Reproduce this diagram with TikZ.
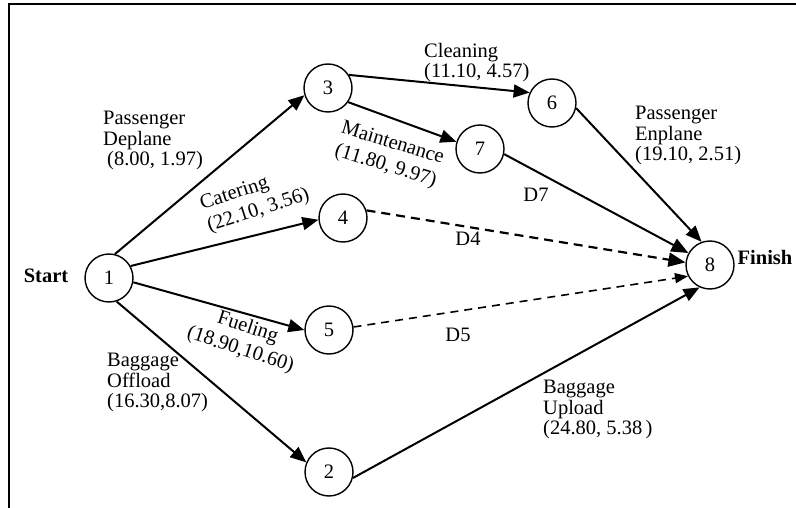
\documentclass[tikz,border=0pt]{standalone}
\usepackage{fontspec}
\setmainfont{Liberation Serif}
\usetikzlibrary{arrows.meta}
\begin{document}
\begin{tikzpicture}[x=1pt,y=-1pt,
  txt/.style={font=\fontsize{20.5}{20.5}\selectfont},
  ev/.style={txt,circle,draw,line width=1.4pt,minimum size=48pt,inner sep=0pt},
  act/.style={line width=2pt,-{Triangle[length=16pt,width=13pt]}},
  dum/.style={line width=2.2pt,dash pattern=on 9pt off 6pt,-{Triangle[length=17pt,width=14pt]}},
  dumthin/.style={line width=1.6pt,dash pattern=on 8pt off 6pt,-{Triangle[length=13pt,width=10pt]}},
  lbl/.style={txt,align=left,anchor=north west,inner sep=0pt},
  rl/.style={font=\fontsize{20.5}{23.5}\selectfont,inner sep=0pt},
  bl/.style={txt,inner sep=0pt,anchor=base},
]
\useasboundingbox (0,0) rectangle (796,508);
\draw[line width=2pt] (796,4.5) -- (9,4.5) -- (9,508);

% events
\node[ev] (n1) at (109,278) {1};
\node[ev] (n2) at (329,472) {2};
\node[ev] (n3) at (328,88) {3};
\node[ev] (n4) at (343,218) {4};
\node[ev] (n5) at (329,330) {5};
\node[ev] (n6) at (552,103) {6};
\node[ev] (n7) at (480,149) {7};
\node[ev] (n8) at (710,265) {8};

% activities
\draw[act] (n1.76) -- (n3.197);
\draw[act] (n1.29) -- (n4.184);
\draw[act] (n1.-10) -- (n5.180);
\draw[act] (n1.-72) -- (n2.157);
\draw[act] (n3.32) -- (n6.155);
\draw[act] (n3.-35) -- (n7.163);
\draw[act] (n6.-12) -- (n8.110);
\draw[act,-{Triangle[length=17pt,width=14pt]}] (n7.-12) -- (n8.151);
\draw[act] (n2.-14) -- (n8.245);
\draw[dum] (n4.18) -- (n8.174);
\draw[dumthin] (n5.7) -- (n8.207);

% labels
\node[bl] (start) at (46,283) {\textbf{Start}};
\node[bl] (finish) at (765,265) {\textbf{Finish}};
\node[lbl] (lpd) at (103,111) {Passenger\\Deplane\\\hspace{4pt}(8.00, 1.97)};
\node[lbl] (lcl) at (424,43) {Cleaning\\(11.10, 4.57)};
\node[lbl] (lpe) at (635,106) {Passenger\\Enplane\\(19.10, 2.51)};
\node[lbl] (lbo) at (107,353) {Baggage\\Offload\\(16.30,8.07)};
\node[lbl] (lbu) at (543,380) {Baggage\\Upload\\(24.80, 5.38\,)};
\node[rl,rotate=18,align=left] (lca) at (255,200) {Catering\\(22.10, 3.56)};
\node[rl,rotate=-17,align=center] (lma) at (389,155) {Maintenance\\(11.80, 9.97)};
\node[rl,rotate=-18,align=center] (lfu) at (244,339) {Fueling\\(18.90,10.60)};
\node[bl] (d7) at (536,202) {D7};
\node[bl] (d4) at (468,245) {D4};
\node[bl] (d5) at (458,341) {D5};
\end{tikzpicture}
\end{document}
